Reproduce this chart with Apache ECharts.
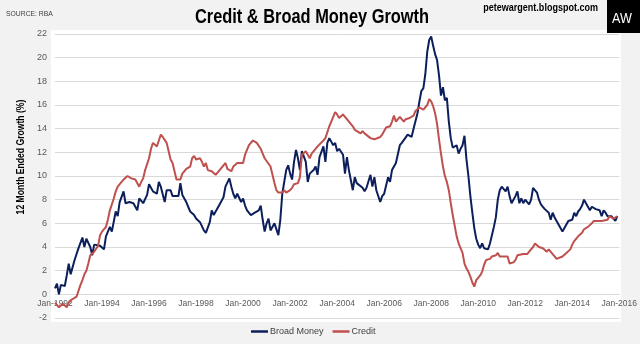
<!DOCTYPE html>
<html>
<head>
<meta charset="utf-8">
<script src="https://cdn.jsdelivr.net/npm/echarts@6/dist/echarts.min.js"></script>
<style>
  html, body { margin: 0; padding: 0; background: #f2f2f2; }
  #chart { width: 640px; height: 344px; }
</style>
</head>
<body>
<div id="chart"></div>
<script>
// Broad money, 12-month ended growth (%)
const broadDates = [
  '1992-01','1992-02','1992-03','1992-04','1992-05','1992-06','1992-07','1992-08','1992-09','1992-11','1992-12',
  '1993-01','1993-03','1993-04','1993-05','1993-07','1993-08','1993-09','1993-10','1993-12',
  '1994-01','1994-02','1994-03','1994-05','1994-06','1994-08','1994-09','1994-10','1994-12',
  '1995-01','1995-03','1995-05','1995-07','1995-08','1995-10','1995-12',
  '1996-01','1996-03','1996-05','1996-06','1996-07','1996-09','1996-10','1996-12',
  '1997-01','1997-02','1997-04','1997-05','1997-06','1997-08','1997-10','1997-12',
  '1998-01','1998-03','1998-05','1998-06','1998-08','1998-09','1998-10','1998-11',
  '1999-01','1999-03','1999-04','1999-06','1999-07','1999-08','1999-09','1999-10','1999-12',
  '2000-01','2000-02','2000-03','2000-05','2000-07','2000-09','2000-10','2000-11','2000-12',
  '2001-01','2001-02','2001-03','2001-05','2001-06','2001-07','2001-08','2001-09','2001-11','2001-12',
  '2002-01','2002-02','2002-03','2002-04','2002-05','2002-06','2002-07','2002-08','2002-09','2002-10','2002-11',
  '2003-01','2003-02','2003-03','2003-04','2003-06','2003-07','2003-08','2003-09','2003-11','2003-12',
  '2004-01','2004-02','2004-04','2004-05','2004-06','2004-07','2004-09','2004-10','2004-11','2004-12',
  '2005-02','2005-03','2005-04','2005-06','2005-07','2005-08','2005-09','2005-11','2005-12',
  '2006-01','2006-03','2006-04','2006-05','2006-07','2006-08','2006-09','2006-10','2006-11',
  '2007-01','2007-02','2007-03','2007-04','2007-06','2007-07','2007-08','2007-09','2007-10','2007-11','2007-12',
  '2008-01','2008-02','2008-03','2008-04','2008-05','2008-06','2008-07','2008-08','2008-09','2008-10','2008-11','2008-12',
  '2009-01','2009-02','2009-03','2009-04','2009-05','2009-06','2009-07','2009-08','2009-09','2009-10','2009-11','2009-12',
  '2010-01','2010-02','2010-03','2010-04','2010-05','2010-06','2010-07','2010-08','2010-09','2010-10','2010-11','2010-12',
  '2011-01','2011-02','2011-03','2011-04','2011-05','2011-06','2011-07','2011-08','2011-09','2011-10','2011-11','2011-12',
  '2012-01','2012-02','2012-03','2012-04','2012-05','2012-06','2012-07','2012-08','2012-09','2012-10','2012-11','2012-12',
  '2013-01','2013-02','2013-03','2013-04','2013-05','2013-06','2013-07','2013-08','2013-09','2013-10','2013-11','2013-12',
  '2014-01','2014-02','2014-03','2014-04','2014-05','2014-06','2014-07','2014-08','2014-09','2014-10','2014-11','2014-12',
  '2015-01','2015-02','2015-03','2015-04','2015-05','2015-06','2015-07','2015-08','2015-09','2015-10','2015-11','2015-12'
];
const broadValues = [
  0.5,0.9,0.0,0.8,0.7,0.7,1.6,2.6,1.7,2.9,2.9,
  3.9,4.8,4.0,4.7,4.0,3.3,4.2,4.3,4.1,
  4.2,3.8,4.9,5.7,5.3,7.0,6.6,7.8,8.7,
  7.7,7.8,7.7,7.1,8.1,7.7,8.4,
  9.3,8.7,8.5,9.5,9.1,7.8,8.8,8.8,
  8.3,8.4,8.3,9.4,8.4,7.8,7.0,6.7,
  6.4,6.1,5.4,5.2,6.1,7.1,6.7,6.8,
  7.6,8.2,9.1,9.8,9.1,8.5,8.1,8.5,7.8,
  8.1,7.5,7.1,6.7,6.9,7.1,7.5,6.3,5.3,
  6.0,6.4,5.4,6.0,6.1,5.0,6.3,8.5,10.5,10.9,
  10.2,9.7,11.2,12.2,11.5,10.5,12.1,12.2,11.2,9.5,10.2,
  10.5,10.8,10.1,11.6,12.5,11.2,12.8,13.2,12.6,12.8,
  12.1,12.3,11.8,10.2,11.6,10.5,8.8,9.9,9.4,9.5,
  9.0,8.7,9.0,10.1,9.1,9.9,8.8,7.8,8.3,
  8.5,9.9,9.5,10.5,11.1,11.2,12.6,12.8,12.8,
  13.5,13.6,13.3,14.0,15.3,16.3,17.2,17.4,18.6,20.5,21.5,
  21.8,21.0,20.3,19.8,18.5,16.8,17.5,16.4,16.6,14.6,13.2,12.4,
  12.4,12.6,11.9,12.3,12.6,13.4,11.4,10.0,8.3,6.9,5.6,4.7,
  4.2,3.9,4.3,3.9,3.8,3.8,4.3,5.0,5.7,6.5,8.0,8.8,
  9.1,9.1,8.7,9.1,8.3,7.7,8.0,8.3,8.7,7.7,8.1,7.7,
  8.0,7.8,7.6,8.0,9.0,9.1,8.6,8.0,7.6,7.4,7.2,7.1,
  6.9,6.3,6.9,6.5,6.2,5.9,5.6,5.3,5.6,5.9,6.2,6.1,
  6.3,6.9,6.6,7.0,7.2,7.5,8.0,7.7,7.7,7.1,7.4,7.4,
  7.2,7.1,7.1,6.6,7.1,6.9,6.6,6.7,6.6,6.4,6.2,6.6
];

// Credit, 12-month ended growth (%)
const creditDates = [
  '1992-01','1992-03','1992-04','1992-05','1992-07','1992-08','1992-09','1992-10','1992-12',
  '1993-01','1993-02','1993-03','1993-04','1993-05','1993-06','1993-07','1993-09','1993-10','1993-11','1993-12',
  '1994-01','1994-03','1994-04','1994-05','1994-07','1994-08','1994-09','1994-11','1994-12',
  '1995-01','1995-02','1995-04','1995-05','1995-06','1995-08','1995-09','1995-10','1995-11',
  '1996-01','1996-02','1996-03','1996-05','1996-06','1996-07','1996-08','1996-10','1996-11','1996-12',
  '1997-01','1997-02','1997-03','1997-05','1997-06','1997-07','1997-08','1997-10','1997-11','1997-12',
  '1998-01','1998-03','1998-04','1998-05','1998-06','1998-07','1998-09','1998-11','1998-12',
  '1999-01','1999-03','1999-04','1999-05','1999-07','1999-08','1999-10','1999-11',
  '2000-01','2000-02','2000-03','2000-04','2000-06','2000-07','2000-08','2000-10','2000-11','2000-12',
  '2001-01','2001-03','2001-04','2001-05','2001-06','2001-07','2001-09','2001-10','2001-11',
  '2002-01','2002-02','2002-03','2002-04','2002-05','2002-06','2002-07','2002-09','2002-10','2002-11','2002-12',
  '2003-02','2003-03','2003-04','2003-06','2003-07','2003-08','2003-09','2003-11','2003-12',
  '2004-01','2004-02','2004-04','2004-05','2004-06','2004-07','2004-09','2004-10','2004-11',
  '2005-01','2005-02','2005-03','2005-04','2005-06','2005-07','2005-08','2005-09','2005-11','2005-12',
  '2006-01','2006-02','2006-04','2006-05','2006-06','2006-07','2006-09','2006-10','2006-11','2006-12',
  '2007-02','2007-04','2007-05','2007-07','2007-08','2007-09','2007-11','2007-12',
  '2008-01','2008-02','2008-03','2008-04','2008-05','2008-06','2008-07','2008-08','2008-09','2008-10','2008-11','2008-12',
  '2009-01','2009-02','2009-03','2009-04','2009-05','2009-06','2009-07','2009-08','2009-09','2009-10','2009-11','2009-12',
  '2010-01','2010-02','2010-03','2010-04','2010-05','2010-07','2010-08','2010-09','2010-10','2010-11','2010-12',
  '2011-02','2011-03','2011-04','2011-05','2011-07','2011-08','2011-09','2011-10','2011-12',
  '2012-01','2012-02','2012-03','2012-05','2012-06','2012-07','2012-08','2012-10','2012-11','2012-12',
  '2013-01','2013-03','2013-04','2013-05','2013-06','2013-08','2013-09','2013-10','2013-12',
  '2014-01','2014-02','2014-04','2014-06','2014-07','2014-09','2014-11','2014-12',
  '2015-02','2015-04','2015-05','2015-07','2015-08','2015-09','2015-10','2015-12'
];
const creditValues = [
  -0.7,-1.1,-1.2,-0.8,-1.1,-0.7,-0.5,-0.5,-0.2,
  0.3,0.8,1.2,1.7,2.0,2.6,3.3,3.6,3.7,4.1,5.0,
  5.3,5.7,6.3,7.1,8.1,8.7,9.1,9.5,9.7,
  9.8,10.0,9.8,9.7,9.7,9.1,9.5,9.8,10.5,
  11.5,12.3,12.8,12.5,13.0,13.5,13.3,12.8,12.1,11.4,
  11.1,10.4,9.7,9.7,10.2,10.4,10.6,10.8,11.5,11.7,
  11.4,11.5,11.2,10.8,11.1,10.5,10.4,10.1,10.2,
  10.5,10.9,11.1,10.6,10.4,10.8,11.1,11.1,
  11.1,11.8,11.9,12.6,13.0,13.0,12.8,12.3,11.9,11.5,
  11.4,10.8,10.1,9.4,8.8,8.6,8.6,8.8,8.6,
  8.8,9.0,9.3,9.4,9.4,9.9,11.8,12.1,11.8,11.5,11.9,
  12.3,12.5,12.6,13.0,13.2,13.3,14.2,15.0,15.4,
  15.2,14.9,15.2,15.0,14.8,14.6,14.2,13.9,13.8,
  13.6,13.8,13.6,13.5,13.2,13.2,13.1,13.2,13.3,13.5,
  13.8,14.1,14.2,14.6,15.1,14.6,15.0,14.9,14.6,14.8,
  14.9,15.1,15.5,15.8,15.9,15.6,16.0,16.5,
  16.3,15.9,15.3,14.4,13.1,11.9,10.8,10.0,9.5,8.8,7.7,6.7,
  5.8,4.9,4.3,3.9,3.5,2.6,2.2,1.9,1.5,1.0,0.65,1.2,
  1.3,1.6,1.9,2.5,2.9,3.0,3.2,3.2,3.3,3.5,3.2,
  3.2,3.3,3.2,2.6,2.7,2.9,3.3,3.4,3.4,
  3.5,3.4,3.6,4.0,4.3,4.2,4.0,3.9,3.8,3.6,
  3.8,3.4,3.2,3.0,3.0,3.2,3.2,3.5,3.8,
  4.2,4.5,4.9,5.2,5.5,5.7,6.0,6.2,
  6.2,6.2,6.1,6.3,6.6,6.7,6.4,6.6
];

// Axis setup
const startYear = 1992;
const endYear = 2016;
const yMin = -2, yMax = 22, yStep = 2;

const FONT = '"Liberation Sans", Arial, sans-serif';
// horizontal squeeze used to give the headline texts a condensed look
const NARROW_SCALE = 0.82;

const GRID = { left: 55, right: 20, top: 34, bottom: 26 };
const CHART_H = 344;
// lift the date axis from the bottom of the plot up to the 0 % line
const plotH = CHART_H - GRID.top - GRID.bottom;
const zeroLift = -(0 - yMin) / (yMax - yMin) * plotH;

// 'YYYY-MM' -> months since Jan of the start year
function monthIndex(s) {
  const [y, m] = s.split('-').map(Number);
  return (y - startYear) * 12 + (m - 1);
}
function pairs(dates, values) {
  return dates.map((d, i) => [monthIndex(d), values[i]]);
}

const chart = echarts.init(document.getElementById('chart'), null, { renderer: 'canvas' });

chart.setOption({
  backgroundColor: '#f2f2f2',
  animation: false,
  textStyle: { fontFamily: FONT },
  grid: Object.assign({ show: true, backgroundColor: '#ffffff', borderWidth: 0 }, GRID),
  graphic: [
    { type: 'rect', z: -10, shape: { x: 51, y: 30, width: 570, height: 292 }, style: { fill: '#ffffff' } },
    { type: 'text', x: 312, y: 17, scaleX: NARROW_SCALE, style: { text: 'Credit & Broad Money Growth', font: 'bold 20px ' + FONT, fill: '#000000', textAlign: 'center', textVerticalAlign: 'middle' } },
    { type: 'text', x: 6, y: 14, scaleX: 0.85, style: { text: 'SOURCE: RBA', font: '8px ' + FONT, fill: '#404040', textAlign: 'left', textVerticalAlign: 'middle' } },
    { type: 'text', x: 598, y: 8, scaleX: NARROW_SCALE, style: { text: 'petewargent.blogspot.com', font: 'bold 11px ' + FONT, fill: '#000000', textAlign: 'right', textVerticalAlign: 'middle' } },
    { type: 'rect', shape: { x: 607, y: 0, width: 33, height: 33 }, style: { fill: '#000000' } },
    { type: 'text', x: 622, y: 19, scaleX: 0.9, style: { text: 'AW', font: '14px ' + FONT, fill: '#ffffff', textAlign: 'center', textVerticalAlign: 'middle' } },
    { type: 'text', x: 21, y: 157, rotation: Math.PI / 2, scaleX: NARROW_SCALE, style: { text: '12 Month Ended Growth (%)', font: 'bold 10.5px ' + FONT, fill: '#000000', textAlign: 'center', textVerticalAlign: 'middle' } }
  ],
  legend: {
    left: 246,
    top: 322,
    icon: 'rect',
    itemWidth: 17,
    itemHeight: 2.5,
    itemGap: 9,
    textStyle: { fontSize: 9, color: '#404040', fontFamily: FONT, padding: [0, 0, 0, -3] },
    data: ['Broad Money', 'Credit']
  },
  xAxis: {
    type: 'value',
    min: 0,
    max: (endYear - startYear) * 12,
    interval: 24,
    offset: zeroLift,
    axisLine: { show: true, onZero: false, lineStyle: { color: '#d9d9d9', width: 1 } },
    axisTick: { show: false },
    splitLine: { show: false },
    axisLabel: {
      margin: 5,
      fontSize: 8.5,
      color: '#595959',
      fontFamily: FONT,
      showMinLabel: true,
      showMaxLabel: true,
      formatter: v => 'Jan-' + (startYear + v / 12)
    }
  },
  yAxis: {
    type: 'value',
    min: yMin,
    max: yMax,
    interval: yStep,
    axisLine: { show: false, onZero: false },
    axisTick: { show: false },
    splitLine: { lineStyle: { color: '#d9d9d9', width: 1 } },
    axisLabel: { margin: 8, fontSize: 9, color: '#595959', fontFamily: FONT }
  },
  series: [
    {
      name: 'Broad Money',
      type: 'line',
      data: pairs(broadDates, broadValues),
      showSymbol: false,
      color: '#0c1f5b',
      lineStyle: { width: 2, color: '#0c1f5b' }
    },
    {
      name: 'Credit',
      type: 'line',
      data: pairs(creditDates, creditValues),
      showSymbol: false,
      color: '#bf504d',
      lineStyle: { width: 2, color: '#bf504d' }
    }
  ]
});
</script>
</body>
</html>
